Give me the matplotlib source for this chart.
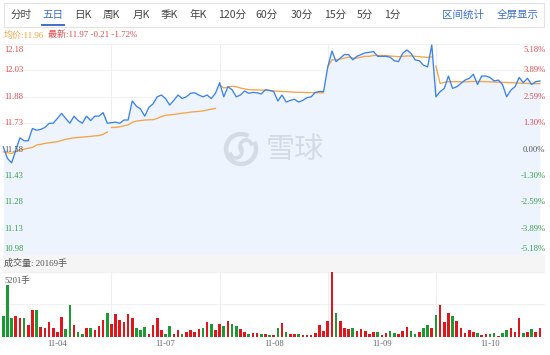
import matplotlib
matplotlib.use('Agg')
import matplotlib.pyplot as plt
from matplotlib.patches import Rectangle, Arc
from matplotlib.lines import Line2D

# ---------------- data ----------------
day_labels = ['11-04', '11-07', '11-08', '11-09', '11-10']
tabs = ['分时', '五日', '日K', '周K', '月K', '季K', '年K', '120分', '60分', '30分', '15分', '5分', '1分']
tab_x = [20.7, 52.7, 83, 111.7, 141, 169, 198, 231.7, 266, 301.7, 335, 365, 392.3]
prev_close = 11.58
price_ticks = [12.18, 12.03, 11.88, 11.73, 11.58, 11.43, 11.28, 11.13, 10.98]
pct_ticks = ['5.18%', '3.89%', '2.59%', '1.30%', '0.00%', '-1.30%', '-2.59%', '-3.89%', '-5.18%']

price_d1 = [11.596, 11.53, 11.505, 11.577, 11.647, 11.63, 11.63, 11.70, 11.69, 11.695, 11.706, 11.729, 11.73,
            11.757, 11.786, 11.757, 11.73, 11.77, 11.745, 11.73, 11.77, 11.745, 11.77, 11.77, 11.79, 11.73]
price_d2 = [11.733, 11.736, 11.73, 11.748, 11.748, 11.856, 11.827, 11.81, 11.77, 11.82, 11.84, 11.88, 11.89,
            11.87, 11.833, 11.86, 11.89, 11.87, 11.88, 11.90, 11.903, 11.89, 11.88, 11.89, 11.87, 11.90]
price_d3 = [11.96, 11.88, 11.937, 11.92, 11.88, 11.89, 11.913, 11.90, 11.905, 11.903, 11.896, 11.92, 11.917,
            11.91, 11.856, 11.89, 11.85, 11.86, 11.866, 11.85, 11.86, 11.875, 11.88, 11.905, 11.91, 11.91]
price_d4 = [12.05, 12.14, 12.08, 12.10, 12.12, 12.12, 12.09, 12.11, 12.12, 12.13, 12.133, 12.137, 12.11,
            12.11, 12.11, 12.105, 12.085, 12.08, 12.127, 12.146, 12.127, 12.09, 12.085, 12.06, 12.05, 12.175]
price_d5 = [11.88, 11.909, 11.928, 11.998, 11.928, 11.937, 11.956, 11.975, 11.985, 12.008, 11.95, 11.998, 11.998,
            11.99, 11.97, 11.975, 11.95, 11.88, 11.918, 11.937, 11.99, 11.96, 11.985, 11.95, 11.966, 11.97]

avg_d1 = [11.567, 11.562, 11.558, 11.568, 11.577, 11.583, 11.588, 11.592, 11.606, 11.61, 11.615, 11.619, 11.622,
          11.625, 11.632, 11.638, 11.643, 11.647, 11.649, 11.651, 11.653, 11.655, 11.658, 11.66, 11.667, 11.68]
avg_d2 = [11.706, 11.706, 11.71, 11.715, 11.72, 11.735, 11.742, 11.745, 11.748, 11.749, 11.75, 11.757, 11.768,
          11.775, 11.777, 11.78, 11.783, 11.787, 11.789, 11.793, 11.795, 11.797, 11.80, 11.805, 11.81, 11.814]
avg_d3 = [11.947, 11.93, 11.935, 11.94, 11.937, 11.93, 11.925, 11.92, 11.92, 11.919, 11.918, 11.917, 11.915,
          11.913, 11.912, 11.91, 11.909, 11.908, 11.906, 11.905, 11.905, 11.904, 11.904, 11.903, 11.903, 11.903]
avg_d4 = [12.05, 12.09, 12.09, 12.095, 12.10, 12.105, 12.10, 12.10, 12.105, 12.11, 12.11, 12.115, 12.115,
          12.115, 12.115, 12.112, 12.11, 12.108, 12.11, 12.112, 12.112, 12.11, 12.108, 12.106, 12.104, 12.106]
avg_d5 = [12.055, 11.956, 11.962, 11.966, 11.966, 11.966, 11.965, 11.965, 11.966, 11.967, 11.967, 11.967, 11.966,
          11.965, 11.964, 11.963, 11.962, 11.961, 11.96, 11.959, 11.958, 11.957, 11.956, 11.955, 11.955, 11.955]

vol_d1 = [1670, 4180, 1480, 1670, 1480, 1480, 940, 2160, 2160, 750, 670, 1130, 670, 350, 1540, 620, 2560, 940,
          350, 190, 670, 670, 490, 860, 1350, 1890]
vol_d2 = [1020, 1830, 1350, 1160, 1800, 1480, 670, 510, 730, 215, 890, 1480, 510, 190, 810, 215, 490, 240, 400,
          510, 400, 570, 650, 1190, 1000, 510]
vol_d3 = [970, 860, 1240, 1000, 810, 620, 350, 240, 270, 270, 215, 240, 160, 135, 650, 1080, 400, 240, 240, 240,
          135, 160, 160, 270, 920, 460]
vol_d4 = [1210, 5201, 1890, 1210, 670, 590, 670, 430, 590, 460, 190, 350, 400, 110, 270, 430, 320, 215, 430, 750,
          430, 240, 400, 700, 890, 650]
vol_d5 = [1750, 2530, 1160, 1890, 1670, 1210, 650, 270, 490, 380, 320, 160, 190, 240, 320, 80, 270, 510, 650,
          400, 1460, 300, 400, 570, 350, 650]
# bar direction (r = up, g = down)
dir_d1 = "gggrrgrrgrrrrrrggrggrgrrrg"
dir_d2 = "rrrrrrgggrrrrggrrgrrrrgrgr"
dir_d3 = "rgrggrrgrrgrgrgrgrrgrrrrrr"
dir_d4 = "rrgrrrgrrrrrgrrggrrrggrggr"
dir_d5 = "grrrgrrrrrgrrggrggrrrgrgrr"

# ---------------- figure ----------------
W, H = 550, 355
fig = plt.figure(figsize=(W / 100, H / 100), dpi=100)
fig.patch.set_facecolor('white')


def fx(px):
    return px / W


def fy(py):
    return 1 - py / H


cjk = ['Noto Sans CJK SC', 'DejaVu Sans']
serif = ['Liberation Serif', 'Noto Sans CJK SC']
RED = '#e14b4b'
GREEN = '#3a9e48'
GRAY = '#555555'
BLUE_T = '#3d6fcb'

# top tab bar
fig.patches.append(Rectangle((fx(4), fy(27)), fx(540), 24 / H, transform=fig.transFigure,
                             facecolor='white', edgecolor='#e3e3e3', lw=0.8))
for t, x in zip(tabs, tab_x):
    fig.text(fx(x), fy(15), t, ha='center', va='center', fontsize=7.6, family=cjk,
             color=BLUE_T if t == '五日' else '#444444')
fig.lines.append(Line2D([fx(42), fx(64)], [fy(24.5), fy(24.5)], transform=fig.transFigure,
                        color=BLUE_T, lw=1.4))
fig.text(fx(463.3), fy(15), '区间统计', ha='center', va='center', fontsize=7.6, family=cjk, color=BLUE_T)
fig.text(fx(517.7), fy(15), '全屏显示', ha='center', va='center', fontsize=7.6, family=cjk, color=BLUE_T)

# info line
fig.text(fx(4), fy(35), '均价:11.96', ha='left', va='center', fontsize=6.5, family=serif, color='#f0a53c')
fig.text(fx(48), fy(35), '最新:11.97 -0.21 -1.72%', ha='left', va='center', fontsize=6.5, family=serif,
         color=RED)

# ---------------- price panel ----------------
X0, STEP = 3.3, 4.16
xmin, xmax = -0.3, 130.3
XL = X0 + xmin * STEP
XR = X0 + xmax * STEP
ax = fig.add_axes([fx(XL), fy(255.2), (XR - XL) / W, (255.2 - 44) / H])
ax.set_xlim(xmin, xmax)
ax.set_ylim(10.98, 12.18)
ax.axis('off')

days_price = [price_d1, price_d2, price_d3, price_d4, price_d5]
days_avg = [avg_d1, avg_d2, avg_d3, avg_d4, avg_d5]
price = sum(days_price, [])
xs = list(range(len(price)))

for v in price_ticks:
    ax.axhline(v, color='#f0f1f3', lw=0.8, zorder=0)
for b in (26, 52, 78, 104):
    ax.axvline(b, color='#eceef1', lw=0.8, zorder=0)

ax.fill_between(xs, price, 10.98, color='#edf4fe', lw=0, zorder=1)

# watermark
wm_color = '#d3dbe6'
fig.patches.append(Arc((fx(241), fy(149)), 30 / W, 30 / H, theta1=70, theta2=400,
                       transform=fig.transFigure, color=wm_color, lw=3.2))
fig.patches.append(Arc((fx(236), fy(151)), 12 / W, 14 / H, theta1=200, theta2=60,
                       transform=fig.transFigure, color=wm_color, lw=2.6))
fig.patches.append(Arc((fx(246), fy(147)), 12 / W, 14 / H, theta1=20, theta2=240,
                       transform=fig.transFigure, color=wm_color, lw=2.6))
fig.text(fx(295), fy(150), '雪球', ha='center', va='center', fontsize=21, family=cjk,
         color=wm_color, fontweight='medium')

ax.plot(xs, price, color='#3b82ec', lw=0.95, zorder=4)
for d, av in enumerate(days_avg):
    ax.plot(range(26 * d, 26 * d + 26), av, color='#f5a544', lw=0.95, zorder=3)

# price labels
for k, (v, p) in enumerate(zip(price_ticks, pct_ticks)):
    if v > prev_close + 1e-9:
        c = RED
    elif v < prev_close - 1e-9:
        c = GREEN
    else:
        c = GRAY
    if k == 0:
        va, dy = 'top', -2
    elif k == len(price_ticks) - 1:
        va, dy = 'bottom', 2
    else:
        va, dy = 'center', 0
    ax.annotate(f'{v:.2f}', xy=(0, v), xycoords=('axes fraction', 'data'), xytext=(2, dy),
                textcoords='offset pixels', ha='left', va=va, fontsize=6.2, family=serif, color=c,
                zorder=5)
    ax.annotate(p, xy=(1, v), xycoords=('axes fraction', 'data'), xytext=(0, dy),
                textcoords='offset pixels', ha='right', va=va, fontsize=6.2, family=serif, color=c,
                zorder=5)

# ---------------- volume band ----------------
fig.patches.append(Rectangle((fx(3), fy(272)), fx(542), 17 / H, transform=fig.transFigure,
                             facecolor='#f5f5f5', edgecolor='none'))
fig.text(fx(4), fy(263.5), '成交量: 20169手', ha='left', va='center', fontsize=6.5, family=serif, color=GRAY)

# ---------------- volume panel ----------------
axv = fig.add_axes([fx(XL), fy(336.5), (XR - XL) / W, (336.5 - 272) / H])
axv.set_xlim(xmin, xmax)
axv.set_ylim(0, 5201)
axv.axis('off')
for v in (2600.5, 5201):
    axv.axhline(v, color='#f0f1f3', lw=0.8, zorder=0)
for b in (26, 52, 78, 104):
    axv.axvline(b, color='#eceef1', lw=0.8, zorder=0)
volume = vol_d1 + vol_d2 + vol_d3 + vol_d4 + vol_d5
dirs = dir_d1 + dir_d2 + dir_d3 + dir_d4 + dir_d5
colors = ['#e3151c' if c == 'r' else '#1b9a33' for c in dirs]
axv.bar(range(len(volume)), volume, width=0.62, color=colors, zorder=2)
fig.text(fx(4), fy(281), '5201手', ha='left', va='center', fontsize=6.2, family=serif, color=GRAY)

# x labels
for d, lab in enumerate(day_labels):
    xpix = X0 + (26 * d + 13) * STEP
    fig.text(fx(xpix), fy(344), lab, ha='center', va='center', fontsize=6.2, family=serif, color='#666666')

fig.savefig('out.png', dpi=100)
